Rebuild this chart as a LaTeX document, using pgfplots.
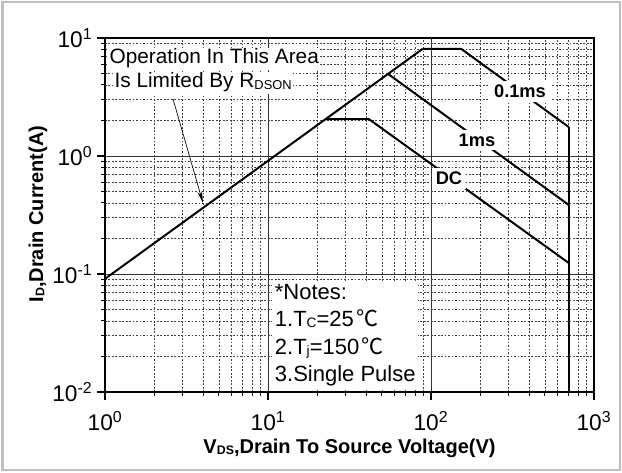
\documentclass[border=0pt]{standalone}
\usepackage{graphicx}
\usepackage{pgfplots}
\pgfplotsset{compat=1.18}
\usepackage{fontspec}
\setmainfont{Liberation Sans}
\newfontfamily\cjk{Noto Sans CJK SC}
\usetikzlibrary{arrows.meta}
\newcommand{\sm}[1]{\raisebox{-0.12ex}{\scalebox{0.62}{#1}}}
\begin{document}
\begin{tikzpicture}
\begin{axis}[
  at={(78.75pt,60pt)}, anchor=south west,
  scale only axis, width=366.75pt, height=265.5pt,
  xmode=log, ymode=log, log basis x=10, log basis y=10,
  xmin=1, xmax=1000, ymin=0.01, ymax=10,
  xtick={1,10,100,1000},
  xticklabels={10\textsuperscript{0},10\textsuperscript{1},10\textsuperscript{2},10\textsuperscript{3}},
  ytick={0.01,0.1,1,10},
  yticklabels={10\textsuperscript{-2},10\textsuperscript{-1},10\textsuperscript{0},10\textsuperscript{1}},
  minor xtick={2,3,4,5,6,7,8,9,20,30,40,50,60,70,80,90,200,300,400,500,600,700,800,900},
  minor ytick={0.02,0.03,0.04,0.05,0.06,0.07,0.08,0.09,0.2,0.3,0.4,0.5,0.6,0.7,0.8,0.9,2,3,4,5,6,7,8,9},
  grid=both,
  major grid style={black!80, line width=0.6pt},
  minor grid style={black!75, line width=0.55pt, dash pattern=on 1.3pt off 1.3pt},
  tick align=outside, tick pos=left,
  major tick length=6pt, minor tick length=3pt,
  every tick/.style={black, line width=0.8pt},
  axis line style={line width=1pt},
  ticklabel style={font=\fontsize{17}{18}\selectfont},
  xticklabel style={yshift=-5pt},
]
\addplot[black, line width=1.5pt] coordinates {(1,0.091) (89,8.1)};
\addplot[black, line width=1.5pt] coordinates {(89,8.1) (153,8.1) (700,1.76)};
\addplot[black, line width=1.5pt] coordinates {(700,1.76) (700,0.01)};
\addplot[black, line width=1.5pt] coordinates {(54.5,4.96) (700,0.385)};
\addplot[black, line width=1.5pt] coordinates {(22.7,2.05) (41.7,2.05) (700,0.124)};
\end{axis}
\begin{scope}[shift={(0pt,354pt)}, x=0.75pt, y=-0.75pt]
  \useasboundingbox (0,0) rectangle (622,472);
  \draw[black!25, line width=1.5pt] (2.5,2.5) rectangle (619.5,469.5);
  % labels on curves
  \node[fill=white, inner sep=3pt, font=\bfseries\fontsize{13.7}{15}\selectfont] at (520,91.5) {0.1ms};
  \node[fill=white, inner sep=3pt, font=\bfseries\fontsize{13.7}{15}\selectfont] at (477,140) {1ms};
  \node[fill=white, inner sep=3pt, font=\bfseries\fontsize{13.7}{15}\selectfont] at (449,178.5) {DC};
  % RDSON annotation
  \node[fill=white, inner sep=1pt, anchor=base west, font=\fontsize{15.6}{18}\selectfont] at (108,64) {Operation In This Area};
  \node[fill=white, inner sep=1pt, anchor=base west, font=\fontsize{15.6}{18}\selectfont] at (113,88) {Is Limited By R\sm{DSON}};
  \draw[black, line width=0.5pt, -{Stealth[length=9pt, width=3.5pt]}] (173,99) -- (203,203);
  % notes
  \node[fill=white, inner sep=2pt, anchor=north west, align=left, font=\fontsize{16.5}{20.6}\selectfont] at (272,281)
    {*Notes:\\1.T\sm{C}=25\hspace{2pt}{\cjk ℃}\\2.T\sm{j}=150\hspace{2pt}{\cjk ℃}\\3.Single Pulse};
  % axis labels
  \node[anchor=base, font=\bfseries\fontsize{15}{18}\selectfont] at (349.5,453) {V\sm{DS},Drain To Source Voltage(V)};
  \node[rotate=90, anchor=center, font=\bfseries\fontsize{15}{18}\selectfont] at (38,214) {I\sm{D},Drain Current(A)};
\end{scope}
\end{tikzpicture}
\end{document}
